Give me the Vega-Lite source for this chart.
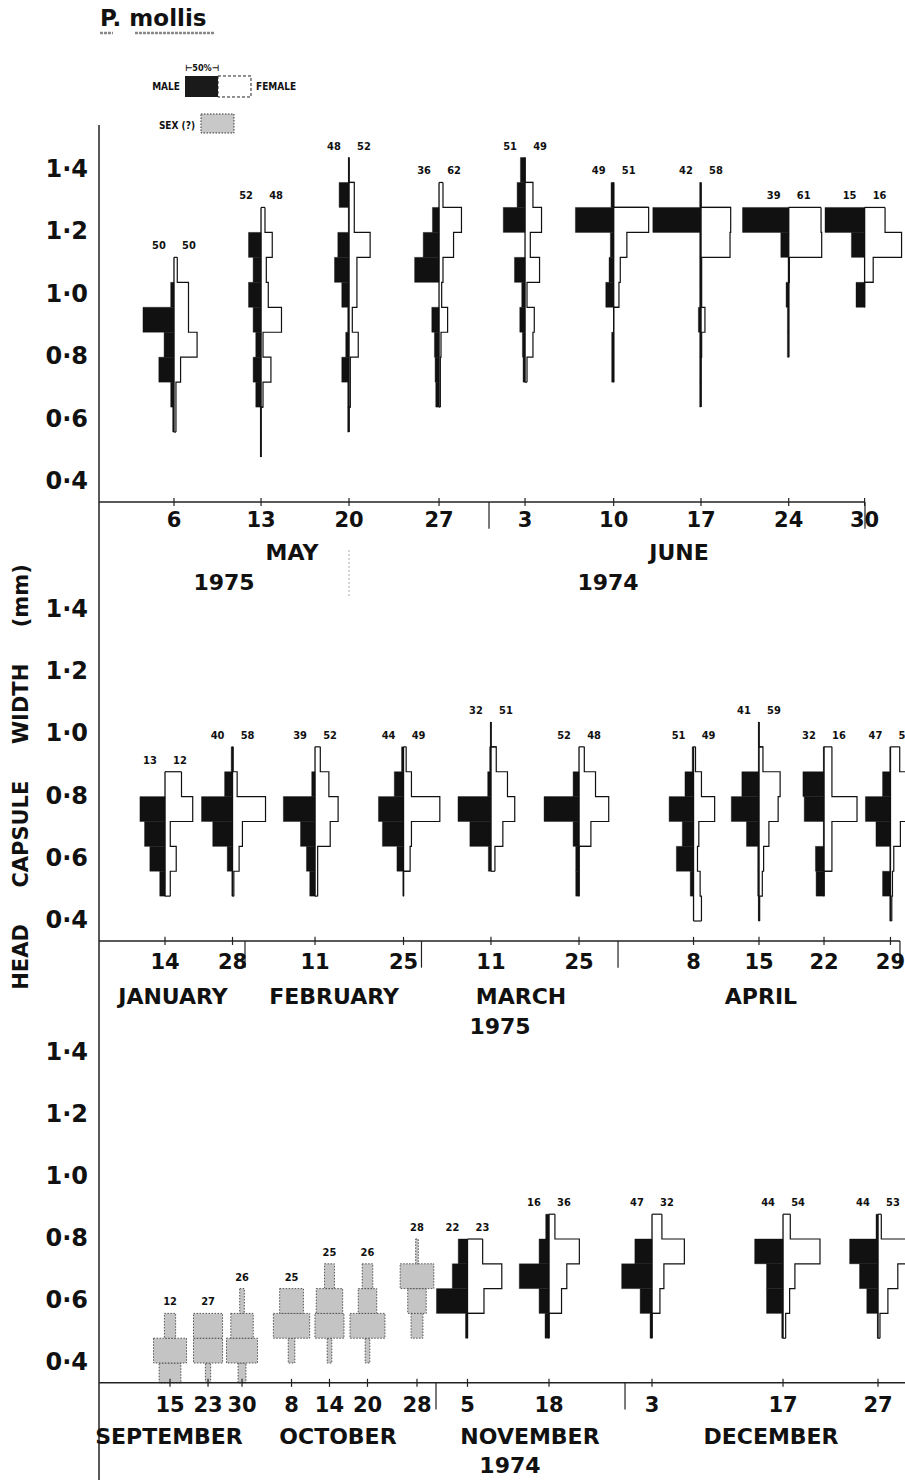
{
"$schema":"https://vega.github.io/schema/vega-lite/v6.json",
"background":"white",
"padding":{"left":10,"top":0,"right":0,"bottom":0},
"autosize":{"type":"pad"},
"bounds":"flush",
"spacing":0,
"config":{"view":{"stroke":null},"text":{"font":"DejaVu Sans","color":"#111"}},
"datasets":{
"yt":[{"v":0.4},{"v":0.6},{"v":0.8},{"v":1.0},{"v":1.2},{"v":1.4}],
"dates":[
{"s":"my06","p":1,"day":"6","slot":113.6,"nm":"50","nf":"50"},
{"s":"my13","p":1,"day":"13","slot":245.5,"nm":"52","nf":"48"},
{"s":"my20","p":1,"day":"20","slot":378.8,"nm":"48","nf":"52"},
{"s":"my27","p":1,"day":"27","slot":515.2,"nm":"36","nf":"62"},
{"s":"jn03","p":1,"day":"3","slot":645.5,"nm":"51","nf":"49"},
{"s":"jn10","p":1,"day":"10","slot":779.8,"nm":"49","nf":"51"},
{"s":"jn17","p":1,"day":"17","slot":912.1,"nm":"42","nf":"58"},
{"s":"jn24","p":1,"day":"24","slot":1045,"nm":"39","nf":"61"},
{"s":"jn30","p":1,"day":"30","slot":1160,"nm":"15","nf":"16"},
{"s":"ja14","p":2,"day":"14","slot":100,"nm":"13","nf":"12"},
{"s":"ja28","p":2,"day":"28","slot":202.3,"nm":"40","nf":"58"},
{"s":"fe11","p":2,"day":"11","slot":327.3,"nm":"39","nf":"52"},
{"s":"fe25","p":2,"day":"25","slot":461.4,"nm":"44","nf":"49"},
{"s":"mr11","p":2,"day":"11","slot":593.9,"nm":"32","nf":"51"},
{"s":"mr25","p":2,"day":"25","slot":727.3,"nm":"52","nf":"48"},
{"s":"ap08","p":2,"day":"8","slot":900.8,"nm":"51","nf":"49"},
{"s":"ap15","p":2,"day":"15","slot":1000,"nm":"41","nf":"59"},
{"s":"ap22","p":2,"day":"22","slot":1098.5,"nm":"32","nf":"16"},
{"s":"ap29","p":2,"day":"29","slot":1199.2,"nm":"47","nf":"53"},
{"s":"se15","p":3,"day":"15","slot":107.6,"n":"12"},
{"s":"se23","p":3,"day":"23","slot":165.2,"n":"27"},
{"s":"se30","p":3,"day":"30","slot":216.7,"n":"26"},
{"s":"oc08","p":3,"day":"8","slot":291.7,"n":"25"},
{"s":"oc14","p":3,"day":"14","slot":349.2,"n":"25"},
{"s":"oc20","p":3,"day":"20","slot":406.8,"n":"26"},
{"s":"oc28","p":3,"day":"28","slot":481.8,"n":"28"},
{"s":"no05","p":3,"day":"5","slot":558.3,"nm":"22","nf":"23"},
{"s":"no18","p":3,"day":"18","slot":681.8,"nm":"16","nf":"36"},
{"s":"de03","p":3,"day":"3","slot":837.9,"nm":"47","nf":"32"},
{"s":"de17","p":3,"day":"17","slot":1036.4,"nm":"44","nf":"54"},
{"s":"de27","p":3,"day":"27","slot":1180.3,"nm":"44","nf":"53"}
],
"seps":[
{"p":1,"slot":590.9},{"p":1,"slot":1160.6},
{"p":2,"slot":221.2},{"p":2,"slot":488.6},{"p":2,"slot":786.4},{"p":2,"slot":1213.6},
{"p":3,"slot":510.6},{"p":3,"slot":797}
],
"labs":[
{"p":1,"k":"m","t":"MAY","slot":292.4},{"p":1,"k":"m","t":"JUNE","slot":878.8},
{"p":1,"k":"y","t":"1975","slot":189.4},{"p":1,"k":"y","t":"1974","slot":771.2},
{"p":2,"k":"m","t":"JANUARY","slot":112.1},{"p":2,"k":"m","t":"FEBRUARY","slot":356.1},
{"p":2,"k":"m","t":"MARCH","slot":639.4},{"p":2,"k":"m","t":"APRIL","slot":1003},
{"p":2,"k":"y","t":"1975","slot":607.6},
{"p":3,"k":"m","t":"SEPTEMBER","slot":106},{"p":3,"k":"m","t":"OCTOBER","slot":362},
{"p":3,"k":"m","t":"NOVEMBER","slot":653},{"p":3,"k":"m","t":"DECEMBER","slot":1018.2},
{"p":3,"k":"y","t":"1974","slot":622.7}
],
"stip":[
{"s":"se15","lo":0.32,"hi":0.40,"u":33},{"s":"se15","lo":0.40,"hi":0.48,"u":50},{"s":"se15","lo":0.48,"hi":0.56,"u":17},
{"s":"se23","lo":0.32,"hi":0.40,"u":8},{"s":"se23","lo":0.40,"hi":0.48,"u":44},{"s":"se23","lo":0.48,"hi":0.56,"u":44},
{"s":"se30","lo":0.32,"hi":0.40,"u":12},{"s":"se30","lo":0.40,"hi":0.48,"u":47},{"s":"se30","lo":0.48,"hi":0.56,"u":34},{"s":"se30","lo":0.56,"hi":0.64,"u":7},
{"s":"oc08","lo":0.40,"hi":0.48,"u":10},{"s":"oc08","lo":0.48,"hi":0.56,"u":55},{"s":"oc08","lo":0.56,"hi":0.64,"u":36},
{"s":"oc14","lo":0.40,"hi":0.48,"u":7},{"s":"oc14","lo":0.48,"hi":0.56,"u":44},{"s":"oc14","lo":0.56,"hi":0.64,"u":40},{"s":"oc14","lo":0.64,"hi":0.72,"u":15},
{"s":"oc20","lo":0.40,"hi":0.48,"u":7},{"s":"oc20","lo":0.48,"hi":0.56,"u":53},{"s":"oc20","lo":0.56,"hi":0.64,"u":28},{"s":"oc20","lo":0.64,"hi":0.72,"u":16},
{"s":"oc28","lo":0.48,"hi":0.56,"u":18},{"s":"oc28","lo":0.56,"hi":0.64,"u":28},{"s":"oc28","lo":0.64,"hi":0.72,"u":51},{"s":"oc28","lo":0.72,"hi":0.80,"u":4}
],
"kites":[
{"s":"my06","lo":0.56,"hi":0.64,"m":2,"f":3},{"s":"my06","lo":0.64,"hi":0.72,"m":5,"f":3},{"s":"my06","lo":0.72,"hi":0.80,"m":23,"f":10},{"s":"my06","lo":0.80,"hi":0.88,"m":15,"f":35},{"s":"my06","lo":0.88,"hi":0.96,"m":47,"f":22},{"s":"my06","lo":0.96,"hi":1.04,"m":5,"f":22},{"s":"my06","lo":1.04,"hi":1.12,"m":0,"f":5},
{"s":"my13","lo":0.48,"hi":0.56,"m":1,"f":0},{"s":"my13","lo":0.56,"hi":0.64,"m":1,"f":0},{"s":"my13","lo":0.64,"hi":0.72,"m":8,"f":3},{"s":"my13","lo":0.72,"hi":0.80,"m":12,"f":15},{"s":"my13","lo":0.80,"hi":0.88,"m":8,"f":3},{"s":"my13","lo":0.88,"hi":0.96,"m":12,"f":31},{"s":"my13","lo":0.96,"hi":1.04,"m":19,"f":11},{"s":"my13","lo":1.04,"hi":1.12,"m":12,"f":8},{"s":"my13","lo":1.12,"hi":1.20,"m":19,"f":17},{"s":"my13","lo":1.20,"hi":1.28,"m":0,"f":6},
{"s":"my20","lo":0.56,"hi":0.64,"m":2,"f":0},{"s":"my20","lo":0.64,"hi":0.72,"m":2,"f":2},{"s":"my20","lo":0.72,"hi":0.80,"m":11,"f":2},{"s":"my20","lo":0.80,"hi":0.88,"m":5,"f":14},{"s":"my20","lo":0.88,"hi":0.96,"m":2,"f":5},{"s":"my20","lo":0.96,"hi":1.04,"m":11,"f":12},{"s":"my20","lo":1.04,"hi":1.12,"m":22,"f":12},{"s":"my20","lo":1.12,"hi":1.20,"m":17,"f":32},{"s":"my20","lo":1.20,"hi":1.28,"m":1,"f":8},{"s":"my20","lo":1.28,"hi":1.36,"m":15,"f":8},{"s":"my20","lo":1.36,"hi":1.44,"m":1,"f":0},
{"s":"my27","lo":0.64,"hi":0.72,"m":5,"f":2},{"s":"my27","lo":0.72,"hi":0.80,"m":6,"f":2},{"s":"my27","lo":0.80,"hi":0.88,"m":7,"f":3},{"s":"my27","lo":0.88,"hi":0.96,"m":11,"f":13},{"s":"my27","lo":0.96,"hi":1.04,"m":0,"f":4},{"s":"my27","lo":1.04,"hi":1.12,"m":37,"f":6},{"s":"my27","lo":1.12,"hi":1.20,"m":24,"f":22},{"s":"my27","lo":1.20,"hi":1.28,"m":10,"f":34},{"s":"my27","lo":1.28,"hi":1.36,"m":0,"f":6},
{"s":"jn03","lo":0.72,"hi":0.80,"m":3,"f":3},{"s":"jn03","lo":0.80,"hi":0.88,"m":4,"f":12},{"s":"jn03","lo":0.88,"hi":0.96,"m":8,"f":14},{"s":"jn03","lo":0.96,"hi":1.04,"m":5,"f":3},{"s":"jn03","lo":1.04,"hi":1.12,"m":16,"f":22},{"s":"jn03","lo":1.12,"hi":1.20,"m":0,"f":8},{"s":"jn03","lo":1.20,"hi":1.28,"m":33,"f":25},{"s":"jn03","lo":1.28,"hi":1.36,"m":12,"f":12},{"s":"jn03","lo":1.36,"hi":1.44,"m":7,"f":0},
{"s":"jn10","lo":0.72,"hi":0.80,"m":3,"f":0},{"s":"jn10","lo":0.80,"hi":0.88,"m":3,"f":0},{"s":"jn10","lo":0.88,"hi":0.96,"m":0,"f":0},{"s":"jn10","lo":0.96,"hi":1.04,"m":12,"f":8},{"s":"jn10","lo":1.04,"hi":1.12,"m":7,"f":10},{"s":"jn10","lo":1.12,"hi":1.20,"m":5,"f":20},{"s":"jn10","lo":1.20,"hi":1.28,"m":58,"f":53},{"s":"jn10","lo":1.28,"hi":1.36,"m":4,"f":0},
{"s":"jn17","lo":0.64,"hi":0.72,"m":2,"f":0},{"s":"jn17","lo":0.72,"hi":0.80,"m":2,"f":0},{"s":"jn17","lo":0.80,"hi":0.88,"m":2,"f":1},{"s":"jn17","lo":0.88,"hi":0.96,"m":4,"f":6},{"s":"jn17","lo":0.96,"hi":1.04,"m":2,"f":1},{"s":"jn17","lo":1.04,"hi":1.12,"m":2,"f":1},{"s":"jn17","lo":1.12,"hi":1.20,"m":2,"f":44},{"s":"jn17","lo":1.20,"hi":1.28,"m":73,"f":45},{"s":"jn17","lo":1.28,"hi":1.36,"m":2,"f":0},
{"s":"jn24","lo":0.80,"hi":0.88,"m":2,"f":0},{"s":"jn24","lo":0.88,"hi":0.96,"m":2,"f":0},{"s":"jn24","lo":0.96,"hi":1.04,"m":4,"f":0},{"s":"jn24","lo":1.04,"hi":1.12,"m":1,"f":1},{"s":"jn24","lo":1.12,"hi":1.20,"m":12,"f":50},{"s":"jn24","lo":1.20,"hi":1.28,"m":70,"f":49},
{"s":"jn30","lo":0.96,"hi":1.04,"m":13,"f":0},{"s":"jn30","lo":1.04,"hi":1.12,"m":0,"f":13},{"s":"jn30","lo":1.12,"hi":1.20,"m":20,"f":56},{"s":"jn30","lo":1.20,"hi":1.28,"m":60,"f":31},
{"s":"ja14","lo":0.48,"hi":0.56,"m":8,"f":8},{"s":"ja14","lo":0.56,"hi":0.64,"m":23,"f":17},{"s":"ja14","lo":0.64,"hi":0.72,"m":31,"f":8},{"s":"ja14","lo":0.72,"hi":0.80,"m":38,"f":42},{"s":"ja14","lo":0.80,"hi":0.88,"m":0,"f":25},
{"s":"ja28","lo":0.48,"hi":0.56,"m":1,"f":2},{"s":"ja28","lo":0.56,"hi":0.64,"m":8,"f":10},{"s":"ja28","lo":0.64,"hi":0.72,"m":30,"f":15},{"s":"ja28","lo":0.72,"hi":0.80,"m":47,"f":50},{"s":"ja28","lo":0.80,"hi":0.88,"m":12,"f":7},{"s":"ja28","lo":0.88,"hi":0.96,"m":2,"f":1},
{"s":"fe11","lo":0.48,"hi":0.56,"m":8,"f":4},{"s":"fe11","lo":0.56,"hi":0.64,"m":13,"f":4},{"s":"fe11","lo":0.64,"hi":0.72,"m":22,"f":23},{"s":"fe11","lo":0.72,"hi":0.80,"m":48,"f":35},{"s":"fe11","lo":0.80,"hi":0.88,"m":5,"f":21},{"s":"fe11","lo":0.88,"hi":0.96,"m":0,"f":8},
{"s":"fe25","lo":0.48,"hi":0.56,"m":1,"f":0},{"s":"fe25","lo":0.56,"hi":0.64,"m":10,"f":10},{"s":"fe25","lo":0.64,"hi":0.72,"m":32,"f":12},{"s":"fe25","lo":0.72,"hi":0.80,"m":38,"f":55},{"s":"fe25","lo":0.80,"hi":0.88,"m":14,"f":12},{"s":"fe25","lo":0.88,"hi":0.96,"m":3,"f":4},
{"s":"mr11","lo":0.56,"hi":0.64,"m":4,"f":6},{"s":"mr11","lo":0.64,"hi":0.72,"m":32,"f":18},{"s":"mr11","lo":0.72,"hi":0.80,"m":50,"f":36},{"s":"mr11","lo":0.80,"hi":0.88,"m":5,"f":25},{"s":"mr11","lo":0.88,"hi":0.96,"m":2,"f":8},{"s":"mr11","lo":0.96,"hi":1.04,"m":1,"f":0},
{"s":"mr25","lo":0.48,"hi":0.56,"m":5,"f":0},{"s":"mr25","lo":0.56,"hi":0.64,"m":5,"f":0},{"s":"mr25","lo":0.64,"hi":0.72,"m":9,"f":18},{"s":"mr25","lo":0.72,"hi":0.80,"m":53,"f":45},{"s":"mr25","lo":0.80,"hi":0.88,"m":9,"f":25},{"s":"mr25","lo":0.88,"hi":0.96,"m":0,"f":8},
{"s":"ap08","lo":0.40,"hi":0.48,"m":0,"f":12},{"s":"ap08","lo":0.48,"hi":0.56,"m":5,"f":10},{"s":"ap08","lo":0.56,"hi":0.64,"m":26,"f":6},{"s":"ap08","lo":0.64,"hi":0.72,"m":17,"f":8},{"s":"ap08","lo":0.72,"hi":0.80,"m":37,"f":32},{"s":"ap08","lo":0.80,"hi":0.88,"m":13,"f":12},{"s":"ap08","lo":0.88,"hi":0.96,"m":2,"f":3},
{"s":"ap15","lo":0.40,"hi":0.48,"m":1,"f":1},{"s":"ap15","lo":0.48,"hi":0.56,"m":2,"f":5},{"s":"ap15","lo":0.56,"hi":0.64,"m":2,"f":7},{"s":"ap15","lo":0.64,"hi":0.72,"m":19,"f":15},{"s":"ap15","lo":0.72,"hi":0.80,"m":42,"f":29},{"s":"ap15","lo":0.80,"hi":0.88,"m":26,"f":32},{"s":"ap15","lo":0.88,"hi":0.96,"m":1,"f":6},{"s":"ap15","lo":0.96,"hi":1.04,"m":1,"f":0},
{"s":"ap22","lo":0.48,"hi":0.56,"m":12,"f":0},{"s":"ap22","lo":0.56,"hi":0.64,"m":13,"f":12},{"s":"ap22","lo":0.64,"hi":0.72,"m":1,"f":12},{"s":"ap22","lo":0.72,"hi":0.80,"m":30,"f":50},{"s":"ap22","lo":0.80,"hi":0.88,"m":32,"f":12},{"s":"ap22","lo":0.88,"hi":0.96,"m":1,"f":12},
{"s":"ap29","lo":0.40,"hi":0.48,"m":1,"f":2},{"s":"ap29","lo":0.48,"hi":0.56,"m":12,"f":3},{"s":"ap29","lo":0.56,"hi":0.64,"m":1,"f":5},{"s":"ap29","lo":0.64,"hi":0.72,"m":22,"f":15},{"s":"ap29","lo":0.72,"hi":0.80,"m":38,"f":40},{"s":"ap29","lo":0.80,"hi":0.88,"m":12,"f":25},{"s":"ap29","lo":0.88,"hi":0.96,"m":1,"f":14},
{"s":"no05","lo":0.48,"hi":0.56,"m":3,"f":0},{"s":"no05","lo":0.56,"hi":0.64,"m":47,"f":25},{"s":"no05","lo":0.64,"hi":0.72,"m":23,"f":52},{"s":"no05","lo":0.72,"hi":0.80,"m":14,"f":23},
{"s":"no18","lo":0.48,"hi":0.56,"m":6,"f":0},{"s":"no18","lo":0.56,"hi":0.64,"m":15,"f":19},{"s":"no18","lo":0.64,"hi":0.72,"m":45,"f":27},{"s":"no18","lo":0.72,"hi":0.80,"m":15,"f":46},{"s":"no18","lo":0.80,"hi":0.88,"m":5,"f":9},
{"s":"de03","lo":0.48,"hi":0.56,"m":3,"f":0},{"s":"de03","lo":0.56,"hi":0.64,"m":18,"f":12},{"s":"de03","lo":0.64,"hi":0.72,"m":46,"f":18},{"s":"de03","lo":0.72,"hi":0.80,"m":26,"f":49},{"s":"de03","lo":0.80,"hi":0.88,"m":0,"f":15},
{"s":"de17","lo":0.48,"hi":0.56,"m":2,"f":4},{"s":"de17","lo":0.56,"hi":0.64,"m":25,"f":10},{"s":"de17","lo":0.64,"hi":0.72,"m":25,"f":18},{"s":"de17","lo":0.72,"hi":0.80,"m":43,"f":56},{"s":"de17","lo":0.80,"hi":0.88,"m":0,"f":11},
{"s":"de27","lo":0.48,"hi":0.56,"m":1,"f":3},{"s":"de27","lo":0.56,"hi":0.64,"m":17,"f":15},{"s":"de27","lo":0.64,"hi":0.72,"m":28,"f":30},{"s":"de27","lo":0.72,"hi":0.80,"m":43,"f":45},{"s":"de27","lo":0.80,"hi":0.88,"m":3,"f":5}
]
},
"vconcat":[
{
"width":808,"height":125,
"layer":[
{"data":{"values":[{}]},"mark":{"type":"text","text":"P. mollis","align":"left","baseline":"middle","fontWeight":"bold","fontSize":23},
 "encoding":{"x":{"datum":1.5,"type":"quantitative","scale":{"domain":[0,1224.24],"nice":false,"zero":false},"axis":null},"y":{"datum":1.884,"type":"quantitative","scale":{"domain":[1.5442,1.9448],"nice":false,"zero":false},"axis":null}}},
{"data":{"values":[{}]},"mark":{"type":"rule","color":"#888","strokeWidth":2.5,"strokeDash":[3,1]},
 "encoding":{"x":{"datum":1.5,"type":"quantitative","scale":{"domain":[0,1224.24],"nice":false,"zero":false},"axis":null},"x2":{"datum":21.2},"y":{"datum":1.839,"type":"quantitative","scale":{"domain":[1.5442,1.9448],"nice":false,"zero":false},"axis":null}}},
{"data":{"values":[{}]},"mark":{"type":"rule","color":"#888","strokeWidth":2.5,"strokeDash":[3,1]},
 "encoding":{"x":{"datum":54.5,"type":"quantitative","scale":{"domain":[0,1224.24],"nice":false,"zero":false},"axis":null},"x2":{"datum":175.8},"y":{"datum":1.839,"type":"quantitative","scale":{"domain":[1.5442,1.9448],"nice":false,"zero":false},"axis":null}}},
{"data":{"values":[{}]},"mark":{"type":"text","text":"⊢50%⊣","align":"center","baseline":"middle","fontWeight":"bold","fontSize":9,"font":"Liberation Sans Narrow, DejaVu Sans Condensed, Liberation Sans"},
 "encoding":{"x":{"datum":156.1,"type":"quantitative","scale":{"domain":[0,1224.24],"nice":false,"zero":false},"axis":null},"y":{"datum":1.727,"type":"quantitative","scale":{"domain":[1.5442,1.9448],"nice":false,"zero":false},"axis":null}}},
{"data":{"values":[{}]},"mark":{"type":"text","text":"MALE","align":"right","baseline":"middle","fontWeight":"bold","fontSize":10,"font":"Liberation Sans Narrow, DejaVu Sans Condensed, Liberation Sans"},
 "encoding":{"x":{"datum":122.7,"type":"quantitative","scale":{"domain":[0,1224.24],"nice":false,"zero":false},"axis":null},"y":{"datum":1.666,"type":"quantitative","scale":{"domain":[1.5442,1.9448],"nice":false,"zero":false},"axis":null}}},
{"data":{"values":[{}]},"mark":{"type":"rect","fill":"#1a1a1a"},
 "encoding":{"x":{"datum":130.3,"type":"quantitative","scale":{"domain":[0,1224.24],"nice":false,"zero":false},"axis":null},"x2":{"datum":180.3},"y":{"datum":1.7013,"type":"quantitative","scale":{"domain":[1.5442,1.9448],"nice":false,"zero":false},"axis":null},"y2":{"datum":1.634}}},
{"data":{"values":[{}]},"mark":{"type":"rect","fill":"white","stroke":"#222","strokeWidth":1,"strokeDash":[3,2]},
 "encoding":{"x":{"datum":180.3,"type":"quantitative","scale":{"domain":[0,1224.24],"nice":false,"zero":false},"axis":null},"x2":{"datum":230.3},"y":{"datum":1.7013,"type":"quantitative","scale":{"domain":[1.5442,1.9448],"nice":false,"zero":false},"axis":null},"y2":{"datum":1.634}}},
{"data":{"values":[{}]},"mark":{"type":"text","text":"FEMALE","align":"left","baseline":"middle","fontWeight":"bold","fontSize":10,"font":"Liberation Sans Narrow, DejaVu Sans Condensed, Liberation Sans"},
 "encoding":{"x":{"datum":237.9,"type":"quantitative","scale":{"domain":[0,1224.24],"nice":false,"zero":false},"axis":null},"y":{"datum":1.666,"type":"quantitative","scale":{"domain":[1.5442,1.9448],"nice":false,"zero":false},"axis":null}}},
{"data":{"values":[{}]},"mark":{"type":"text","text":"SEX (?)","align":"right","baseline":"middle","fontWeight":"bold","fontSize":10,"font":"Liberation Sans Narrow, DejaVu Sans Condensed, Liberation Sans"},
 "encoding":{"x":{"datum":145.5,"type":"quantitative","scale":{"domain":[0,1224.24],"nice":false,"zero":false},"axis":null},"y":{"datum":1.541,"type":"quantitative","scale":{"domain":[1.5442,1.9448],"nice":false,"zero":false},"axis":null}}},
{"data":{"values":[{}]},"mark":{"type":"rect","fill":"#c8c8c8","stroke":"#333","strokeWidth":1,"strokeDash":[1.5,1.5]},
 "encoding":{"x":{"datum":154.5,"type":"quantitative","scale":{"domain":[0,1224.24],"nice":false,"zero":false},"axis":null},"x2":{"datum":204.5},"y":{"datum":1.5795,"type":"quantitative","scale":{"domain":[1.5442,1.9448],"nice":false,"zero":false},"axis":null},"y2":{"datum":1.5186}}}
]
},
{
"width":808,"height":475,
"layer":[
{"data":{"values":[{}]},"mark":{"type":"rule","color":"#222","strokeWidth":1.5},
 "encoding":{"x":{"datum":0,"type":"quantitative","scale":{"domain":[0,1224.24],"nice":false,"zero":false},"axis":null},"y":{"datum":0.0218,"type":"quantitative","scale":{"domain":[0.0218,1.5442],"nice":false,"zero":false},"axis":null},"y2":{"datum":1.5442}}},
{"data":{"name":"yt"},"transform":[{"calculate":"replace(format(datum.v,'.1f'),'.','·')","as":"lab"}],
 "mark":{"type":"text","align":"right","baseline":"middle","dx":-11,"fontWeight":"bold","fontSize":24},
 "encoding":{"text":{"field":"lab"},"x":{"datum":0,"type":"quantitative","scale":{"domain":[0,1224.24],"nice":false,"zero":false},"axis":null},"y":{"field":"v","type":"quantitative","scale":{"domain":[0.0218,1.5442],"nice":false,"zero":false},"axis":null}}},
{"data":{"name":"kites"},
 "transform":[{"lookup":"s","from":{"data":{"name":"dates"},"key":"s","fields":["p","slot"]}},{"filter":"datum.p==1 && datum.m>0"},{"calculate":"datum.slot-datum.m","as":"xm"}],
 "mark":{"type":"rect","fill":"#111","stroke":"#111","strokeWidth":0.4,"clip":true},
 "encoding":{"x":{"field":"xm","type":"quantitative","scale":{"domain":[0,1224.24],"nice":false,"zero":false},"axis":null},"x2":{"field":"slot"},"y":{"field":"lo","type":"quantitative","scale":{"domain":[0.0218,1.5442],"nice":false,"zero":false},"axis":null},"y2":{"field":"hi"}}},
{"data":{"name":"kites"},
 "transform":[{"lookup":"s","from":{"data":{"name":"dates"},"key":"s","fields":["p","slot"]}},{"filter":"datum.p==1"},{"calculate":"datum.slot+datum.f","as":"xf"},{"fold":["lo","hi"],"as":["k","yy"]},{"calculate":"datum.yy+(datum.k=='hi'?0:0.001)","as":"ord"}],
 "mark":{"type":"line","color":"#111","strokeWidth":1.2,"clip":true},
 "encoding":{"x":{"field":"xf","type":"quantitative","scale":{"domain":[0,1224.24],"nice":false,"zero":false},"axis":null},"y":{"field":"yy","type":"quantitative","scale":{"domain":[0.0218,1.5442],"nice":false,"zero":false},"axis":null},"detail":{"field":"s"},"order":{"field":"ord","type":"quantitative"}}},
{"data":{"name":"kites"},
 "transform":[{"lookup":"s","from":{"data":{"name":"dates"},"key":"s","fields":["p","slot"]}},{"filter":"datum.p==1 && datum.f>0"},{"joinaggregate":[{"op":"min","field":"lo","as":"flo"},{"op":"max","field":"hi","as":"fhi"}],"groupby":["s"]},{"calculate":"datum.slot+datum.f","as":"xf"},{"filter":"datum.lo==datum.flo"}],
 "mark":{"type":"rule","color":"#111","strokeWidth":1.2,"clip":true},
 "encoding":{"x":{"field":"slot","type":"quantitative","scale":{"domain":[0,1224.24],"nice":false,"zero":false},"axis":null},"x2":{"field":"xf"},"y":{"field":"lo","type":"quantitative","scale":{"domain":[0.0218,1.5442],"nice":false,"zero":false},"axis":null}}},
{"data":{"name":"kites"},
 "transform":[{"lookup":"s","from":{"data":{"name":"dates"},"key":"s","fields":["p","slot"]}},{"filter":"datum.p==1 && datum.f>0"},{"joinaggregate":[{"op":"min","field":"lo","as":"flo"},{"op":"max","field":"hi","as":"fhi"}],"groupby":["s"]},{"calculate":"datum.slot+datum.f","as":"xf"},{"filter":"datum.hi==datum.fhi"}],
 "mark":{"type":"rule","color":"#111","strokeWidth":1.2,"clip":true},
 "encoding":{"x":{"field":"slot","type":"quantitative","scale":{"domain":[0,1224.24],"nice":false,"zero":false},"axis":null},"x2":{"field":"xf"},"y":{"field":"hi","type":"quantitative","scale":{"domain":[0.0218,1.5442],"nice":false,"zero":false},"axis":null}}},
{"data":{"name":"kites"},
 "transform":[{"aggregate":[{"op":"min","field":"lo","as":"bot"},{"op":"max","field":"hi","as":"top"}],"groupby":["s"]},{"lookup":"s","from":{"data":{"name":"dates"},"key":"s","fields":["p","slot","nm","nf"]}},{"filter":"datum.p==1"}],
 "mark":{"type":"rule","color":"#111","strokeWidth":1.3,"clip":true},
 "encoding":{"x":{"field":"slot","type":"quantitative","scale":{"domain":[0,1224.24],"nice":false,"zero":false},"axis":null},"y":{"field":"bot","type":"quantitative","scale":{"domain":[0.0218,1.5442],"nice":false,"zero":false},"axis":null},"y2":{"field":"top"}}},
{"data":{"name":"kites"},
 "transform":[{"aggregate":[{"op":"max","field":"hi","as":"top"}],"groupby":["s"]},{"lookup":"s","from":{"data":{"name":"dates"},"key":"s","fields":["p","slot","nm","nf"]}},{"filter":"datum.p==1"}],
 "mark":{"type":"text","dx":-15,"dy":-11,"baseline":"middle","fontWeight":"bold","fontSize":11,"font":"Liberation Sans Narrow, DejaVu Sans Condensed, Liberation Sans","clip":true},
 "encoding":{"text":{"field":"nm"},"x":{"field":"slot","type":"quantitative","scale":{"domain":[0,1224.24],"nice":false,"zero":false},"axis":null},"y":{"field":"top","type":"quantitative","scale":{"domain":[0.0218,1.5442],"nice":false,"zero":false},"axis":null}}},
{"data":{"name":"kites"},
 "transform":[{"aggregate":[{"op":"max","field":"hi","as":"top"}],"groupby":["s"]},{"lookup":"s","from":{"data":{"name":"dates"},"key":"s","fields":["p","slot","nm","nf"]}},{"filter":"datum.p==1"}],
 "mark":{"type":"text","dx":15,"dy":-11,"baseline":"middle","fontWeight":"bold","fontSize":11,"font":"Liberation Sans Narrow, DejaVu Sans Condensed, Liberation Sans","clip":true},
 "encoding":{"text":{"field":"nf"},"x":{"field":"slot","type":"quantitative","scale":{"domain":[0,1224.24],"nice":false,"zero":false},"axis":null},"y":{"field":"top","type":"quantitative","scale":{"domain":[0.0218,1.5442],"nice":false,"zero":false},"axis":null}}},
{"data":{"values":[{}]},"mark":{"type":"rule","color":"#222","strokeWidth":1.5},
 "encoding":{"x":{"datum":0,"type":"quantitative","scale":{"domain":[0,1224.24],"nice":false,"zero":false},"axis":null},"x2":{"datum":1160.6},"y":{"datum":0.336,"type":"quantitative","scale":{"domain":[0.0218,1.5442],"nice":false,"zero":false},"axis":null}}},
{"data":{"name":"dates"},"transform":[{"filter":"datum.p==1"}],"mark":{"type":"rule","color":"#222","strokeWidth":1.2},
 "encoding":{"x":{"field":"slot","type":"quantitative","scale":{"domain":[0,1224.24],"nice":false,"zero":false},"axis":null},"y":{"datum":0.349,"type":"quantitative","scale":{"domain":[0.0218,1.5442],"nice":false,"zero":false},"axis":null},"y2":{"datum":0.323}}},
{"data":{"name":"seps"},"transform":[{"filter":"datum.p==1"}],"mark":{"type":"rule","color":"#222","strokeWidth":1.2},
 "encoding":{"x":{"field":"slot","type":"quantitative","scale":{"domain":[0,1224.24],"nice":false,"zero":false},"axis":null},"y":{"datum":0.336,"type":"quantitative","scale":{"domain":[0.0218,1.5442],"nice":false,"zero":false},"axis":null},"y2":{"datum":0.25}}},
{"data":{"name":"dates"},"transform":[{"filter":"datum.p==1"}],"mark":{"type":"text","baseline":"middle","fontWeight":"bold","fontSize":21},
 "encoding":{"text":{"field":"day"},"x":{"field":"slot","type":"quantitative","scale":{"domain":[0,1224.24],"nice":false,"zero":false},"axis":null},"y":{"datum":0.2734,"type":"quantitative","scale":{"domain":[0.0218,1.5442],"nice":false,"zero":false},"axis":null}}},
{"data":{"name":"labs"},"transform":[{"filter":"datum.p==1 && datum.k=='m'"}],"mark":{"type":"text","baseline":"middle","fontWeight":"bold","fontSize":22},
 "encoding":{"text":{"field":"t"},"x":{"field":"slot","type":"quantitative","scale":{"domain":[0,1224.24],"nice":false,"zero":false},"axis":null},"y":{"datum":0.1724,"type":"quantitative","scale":{"domain":[0.0218,1.5442],"nice":false,"zero":false},"axis":null}}},
{"data":{"name":"labs"},"transform":[{"filter":"datum.p==1 && datum.k=='y'"}],"mark":{"type":"text","baseline":"middle","fontWeight":"bold","fontSize":22},
 "encoding":{"text":{"field":"t"},"x":{"field":"slot","type":"quantitative","scale":{"domain":[0,1224.24],"nice":false,"zero":false},"axis":null},"y":{"datum":0.0763,"type":"quantitative","scale":{"domain":[0.0218,1.5442],"nice":false,"zero":false},"axis":null}}},
{"data":{"values":[{}]},"mark":{"type":"rule","color":"#aaa","strokeWidth":1,"strokeDash":[2,2]},
 "encoding":{"x":{"datum":378.8,"type":"quantitative","scale":{"domain":[0,1224.24],"nice":false,"zero":false},"axis":null},"y":{"datum":0.182,"type":"quantitative","scale":{"domain":[0.0218,1.5442],"nice":false,"zero":false},"axis":null},"y2":{"datum":0.03}}}
]
},
{
"width":808,"height":445,
"layer":[
{"data":{"values":[{}]},"mark":{"type":"rule","color":"#222","strokeWidth":1.5},
 "encoding":{"x":{"datum":0,"type":"quantitative","scale":{"domain":[0,1224.24],"nice":false,"zero":false},"axis":null},"y":{"datum":0.0013,"type":"quantitative","scale":{"domain":[0.0013,1.4322],"nice":false,"zero":false},"axis":null},"y2":{"datum":1.4322}}},
{"data":{"name":"yt"},"transform":[{"calculate":"replace(format(datum.v,'.1f'),'.','·')","as":"lab"}],
 "mark":{"type":"text","align":"right","baseline":"middle","dx":-11,"fontWeight":"bold","fontSize":24},
 "encoding":{"text":{"field":"lab"},"x":{"datum":0,"type":"quantitative","scale":{"domain":[0,1224.24],"nice":false,"zero":false},"axis":null},"y":{"field":"v","type":"quantitative","scale":{"domain":[0.0013,1.4322],"nice":false,"zero":false},"axis":null}}},
{"data":{"values":[{}]},"mark":{"type":"text","text":"HEAD\u00a0\u00a0\u00a0\u00a0\u00a0CAPSULE\u00a0\u00a0\u00a0\u00a0\u00a0WIDTH\u00a0\u00a0\u00a0\u00a0\u00a0(mm)","angle":270,"align":"center","baseline":"middle","fontWeight":"bold","fontSize":21},
 "encoding":{"x":{"datum":-116.7,"type":"quantitative","scale":{"domain":[0,1224.24],"nice":false,"zero":false},"axis":null},"y":{"datum":0.863,"type":"quantitative","scale":{"domain":[0.0013,1.4322],"nice":false,"zero":false},"axis":null}}},
{"data":{"name":"kites"},
 "transform":[{"lookup":"s","from":{"data":{"name":"dates"},"key":"s","fields":["p","slot"]}},{"filter":"datum.p==2 && datum.m>0"},{"calculate":"datum.slot-datum.m","as":"xm"}],
 "mark":{"type":"rect","fill":"#111","stroke":"#111","strokeWidth":0.4,"clip":true},
 "encoding":{"x":{"field":"xm","type":"quantitative","scale":{"domain":[0,1224.24],"nice":false,"zero":false},"axis":null},"x2":{"field":"slot"},"y":{"field":"lo","type":"quantitative","scale":{"domain":[0.0013,1.4322],"nice":false,"zero":false},"axis":null},"y2":{"field":"hi"}}},
{"data":{"name":"kites"},
 "transform":[{"lookup":"s","from":{"data":{"name":"dates"},"key":"s","fields":["p","slot"]}},{"filter":"datum.p==2"},{"calculate":"datum.slot+datum.f","as":"xf"},{"fold":["lo","hi"],"as":["k","yy"]},{"calculate":"datum.yy+(datum.k=='hi'?0:0.001)","as":"ord"}],
 "mark":{"type":"line","color":"#111","strokeWidth":1.2,"clip":true},
 "encoding":{"x":{"field":"xf","type":"quantitative","scale":{"domain":[0,1224.24],"nice":false,"zero":false},"axis":null},"y":{"field":"yy","type":"quantitative","scale":{"domain":[0.0013,1.4322],"nice":false,"zero":false},"axis":null},"detail":{"field":"s"},"order":{"field":"ord","type":"quantitative"}}},
{"data":{"name":"kites"},
 "transform":[{"lookup":"s","from":{"data":{"name":"dates"},"key":"s","fields":["p","slot"]}},{"filter":"datum.p==2 && datum.f>0"},{"joinaggregate":[{"op":"min","field":"lo","as":"flo"},{"op":"max","field":"hi","as":"fhi"}],"groupby":["s"]},{"calculate":"datum.slot+datum.f","as":"xf"},{"filter":"datum.lo==datum.flo"}],
 "mark":{"type":"rule","color":"#111","strokeWidth":1.2,"clip":true},
 "encoding":{"x":{"field":"slot","type":"quantitative","scale":{"domain":[0,1224.24],"nice":false,"zero":false},"axis":null},"x2":{"field":"xf"},"y":{"field":"lo","type":"quantitative","scale":{"domain":[0.0013,1.4322],"nice":false,"zero":false},"axis":null}}},
{"data":{"name":"kites"},
 "transform":[{"lookup":"s","from":{"data":{"name":"dates"},"key":"s","fields":["p","slot"]}},{"filter":"datum.p==2 && datum.f>0"},{"joinaggregate":[{"op":"min","field":"lo","as":"flo"},{"op":"max","field":"hi","as":"fhi"}],"groupby":["s"]},{"calculate":"datum.slot+datum.f","as":"xf"},{"filter":"datum.hi==datum.fhi"}],
 "mark":{"type":"rule","color":"#111","strokeWidth":1.2,"clip":true},
 "encoding":{"x":{"field":"slot","type":"quantitative","scale":{"domain":[0,1224.24],"nice":false,"zero":false},"axis":null},"x2":{"field":"xf"},"y":{"field":"hi","type":"quantitative","scale":{"domain":[0.0013,1.4322],"nice":false,"zero":false},"axis":null}}},
{"data":{"name":"kites"},
 "transform":[{"aggregate":[{"op":"min","field":"lo","as":"bot"},{"op":"max","field":"hi","as":"top"}],"groupby":["s"]},{"lookup":"s","from":{"data":{"name":"dates"},"key":"s","fields":["p","slot"]}},{"filter":"datum.p==2"}],
 "mark":{"type":"rule","color":"#111","strokeWidth":1.3,"clip":true},
 "encoding":{"x":{"field":"slot","type":"quantitative","scale":{"domain":[0,1224.24],"nice":false,"zero":false},"axis":null},"y":{"field":"bot","type":"quantitative","scale":{"domain":[0.0013,1.4322],"nice":false,"zero":false},"axis":null},"y2":{"field":"top"}}},
{"data":{"name":"kites"},
 "transform":[{"aggregate":[{"op":"max","field":"hi","as":"top"}],"groupby":["s"]},{"lookup":"s","from":{"data":{"name":"dates"},"key":"s","fields":["p","slot","nm","nf"]}},{"filter":"datum.p==2"}],
 "mark":{"type":"text","dx":-15,"dy":-11,"baseline":"middle","fontWeight":"bold","fontSize":11,"font":"Liberation Sans Narrow, DejaVu Sans Condensed, Liberation Sans","clip":true},
 "encoding":{"text":{"field":"nm"},"x":{"field":"slot","type":"quantitative","scale":{"domain":[0,1224.24],"nice":false,"zero":false},"axis":null},"y":{"field":"top","type":"quantitative","scale":{"domain":[0.0013,1.4322],"nice":false,"zero":false},"axis":null}}},
{"data":{"name":"kites"},
 "transform":[{"aggregate":[{"op":"max","field":"hi","as":"top"}],"groupby":["s"]},{"lookup":"s","from":{"data":{"name":"dates"},"key":"s","fields":["p","slot","nm","nf"]}},{"filter":"datum.p==2"}],
 "mark":{"type":"text","dx":15,"dy":-11,"baseline":"middle","fontWeight":"bold","fontSize":11,"font":"Liberation Sans Narrow, DejaVu Sans Condensed, Liberation Sans","clip":true},
 "encoding":{"text":{"field":"nf"},"x":{"field":"slot","type":"quantitative","scale":{"domain":[0,1224.24],"nice":false,"zero":false},"axis":null},"y":{"field":"top","type":"quantitative","scale":{"domain":[0.0013,1.4322],"nice":false,"zero":false},"axis":null}}},
{"data":{"values":[{}]},"mark":{"type":"rule","color":"#222","strokeWidth":1.5},
 "encoding":{"x":{"datum":0,"type":"quantitative","scale":{"domain":[0,1224.24],"nice":false,"zero":false},"axis":null},"x2":{"datum":1213.6},"y":{"datum":0.336,"type":"quantitative","scale":{"domain":[0.0013,1.4322],"nice":false,"zero":false},"axis":null}}},
{"data":{"name":"dates"},"transform":[{"filter":"datum.p==2"}],"mark":{"type":"rule","color":"#222","strokeWidth":1.2},
 "encoding":{"x":{"field":"slot","type":"quantitative","scale":{"domain":[0,1224.24],"nice":false,"zero":false},"axis":null},"y":{"datum":0.349,"type":"quantitative","scale":{"domain":[0.0013,1.4322],"nice":false,"zero":false},"axis":null},"y2":{"datum":0.323}}},
{"data":{"name":"seps"},"transform":[{"filter":"datum.p==2"}],"mark":{"type":"rule","color":"#222","strokeWidth":1.2},
 "encoding":{"x":{"field":"slot","type":"quantitative","scale":{"domain":[0,1224.24],"nice":false,"zero":false},"axis":null},"y":{"datum":0.336,"type":"quantitative","scale":{"domain":[0.0013,1.4322],"nice":false,"zero":false},"axis":null},"y2":{"datum":0.25}}},
{"data":{"name":"dates"},"transform":[{"filter":"datum.p==2"}],"mark":{"type":"text","baseline":"middle","fontWeight":"bold","fontSize":21},
 "encoding":{"text":{"field":"day"},"x":{"field":"slot","type":"quantitative","scale":{"domain":[0,1224.24],"nice":false,"zero":false},"axis":null},"y":{"datum":0.265,"type":"quantitative","scale":{"domain":[0.0013,1.4322],"nice":false,"zero":false},"axis":null}}},
{"data":{"name":"labs"},"transform":[{"filter":"datum.p==2 && datum.k=='m'"}],"mark":{"type":"text","baseline":"middle","fontWeight":"bold","fontSize":22},
 "encoding":{"text":{"field":"t"},"x":{"field":"slot","type":"quantitative","scale":{"domain":[0,1224.24],"nice":false,"zero":false},"axis":null},"y":{"datum":0.1556,"type":"quantitative","scale":{"domain":[0.0013,1.4322],"nice":false,"zero":false},"axis":null}}},
{"data":{"name":"labs"},"transform":[{"filter":"datum.p==2 && datum.k=='y'"}],"mark":{"type":"text","baseline":"middle","fontWeight":"bold","fontSize":22},
 "encoding":{"text":{"field":"t"},"x":{"field":"slot","type":"quantitative","scale":{"domain":[0,1224.24],"nice":false,"zero":false},"axis":null},"y":{"datum":0.0592,"type":"quantitative","scale":{"domain":[0.0013,1.4322],"nice":false,"zero":false},"axis":null}}}
]
},
{
"width":808,"height":435,
"layer":[
{"data":{"values":[{}]},"mark":{"type":"rule","color":"#222","strokeWidth":1.5},
 "encoding":{"x":{"datum":0,"type":"quantitative","scale":{"domain":[0,1224.24],"nice":false,"zero":false},"axis":null},"y":{"datum":0.0226,"type":"quantitative","scale":{"domain":[0.0226,1.4258],"nice":false,"zero":false},"axis":null},"y2":{"datum":1.4258}}},
{"data":{"name":"yt"},"transform":[{"calculate":"replace(format(datum.v,'.1f'),'.','·')","as":"lab"}],
 "mark":{"type":"text","align":"right","baseline":"middle","dx":-11,"fontWeight":"bold","fontSize":24},
 "encoding":{"text":{"field":"lab"},"x":{"datum":0,"type":"quantitative","scale":{"domain":[0,1224.24],"nice":false,"zero":false},"axis":null},"y":{"field":"v","type":"quantitative","scale":{"domain":[0.0226,1.4258],"nice":false,"zero":false},"axis":null}}},
{"data":{"name":"kites"},
 "transform":[{"lookup":"s","from":{"data":{"name":"dates"},"key":"s","fields":["p","slot"]}},{"filter":"datum.p==3 && datum.m>0"},{"calculate":"datum.slot-datum.m","as":"xm"}],
 "mark":{"type":"rect","fill":"#111","stroke":"#111","strokeWidth":0.4,"clip":true},
 "encoding":{"x":{"field":"xm","type":"quantitative","scale":{"domain":[0,1224.24],"nice":false,"zero":false},"axis":null},"x2":{"field":"slot"},"y":{"field":"lo","type":"quantitative","scale":{"domain":[0.0226,1.4258],"nice":false,"zero":false},"axis":null},"y2":{"field":"hi"}}},
{"data":{"name":"kites"},
 "transform":[{"lookup":"s","from":{"data":{"name":"dates"},"key":"s","fields":["p","slot"]}},{"filter":"datum.p==3"},{"calculate":"datum.slot+datum.f","as":"xf"},{"fold":["lo","hi"],"as":["k","yy"]},{"calculate":"datum.yy+(datum.k=='hi'?0:0.001)","as":"ord"}],
 "mark":{"type":"line","color":"#111","strokeWidth":1.2,"clip":true},
 "encoding":{"x":{"field":"xf","type":"quantitative","scale":{"domain":[0,1224.24],"nice":false,"zero":false},"axis":null},"y":{"field":"yy","type":"quantitative","scale":{"domain":[0.0226,1.4258],"nice":false,"zero":false},"axis":null},"detail":{"field":"s"},"order":{"field":"ord","type":"quantitative"}}},
{"data":{"name":"kites"},
 "transform":[{"lookup":"s","from":{"data":{"name":"dates"},"key":"s","fields":["p","slot"]}},{"filter":"datum.p==3 && datum.f>0"},{"joinaggregate":[{"op":"min","field":"lo","as":"flo"},{"op":"max","field":"hi","as":"fhi"}],"groupby":["s"]},{"calculate":"datum.slot+datum.f","as":"xf"},{"filter":"datum.lo==datum.flo"}],
 "mark":{"type":"rule","color":"#111","strokeWidth":1.2,"clip":true},
 "encoding":{"x":{"field":"slot","type":"quantitative","scale":{"domain":[0,1224.24],"nice":false,"zero":false},"axis":null},"x2":{"field":"xf"},"y":{"field":"lo","type":"quantitative","scale":{"domain":[0.0226,1.4258],"nice":false,"zero":false},"axis":null}}},
{"data":{"name":"kites"},
 "transform":[{"lookup":"s","from":{"data":{"name":"dates"},"key":"s","fields":["p","slot"]}},{"filter":"datum.p==3 && datum.f>0"},{"joinaggregate":[{"op":"min","field":"lo","as":"flo"},{"op":"max","field":"hi","as":"fhi"}],"groupby":["s"]},{"calculate":"datum.slot+datum.f","as":"xf"},{"filter":"datum.hi==datum.fhi"}],
 "mark":{"type":"rule","color":"#111","strokeWidth":1.2,"clip":true},
 "encoding":{"x":{"field":"slot","type":"quantitative","scale":{"domain":[0,1224.24],"nice":false,"zero":false},"axis":null},"x2":{"field":"xf"},"y":{"field":"hi","type":"quantitative","scale":{"domain":[0.0226,1.4258],"nice":false,"zero":false},"axis":null}}},
{"data":{"name":"kites"},
 "transform":[{"aggregate":[{"op":"min","field":"lo","as":"bot"},{"op":"max","field":"hi","as":"top"}],"groupby":["s"]},{"lookup":"s","from":{"data":{"name":"dates"},"key":"s","fields":["p","slot"]}},{"filter":"datum.p==3"}],
 "mark":{"type":"rule","color":"#111","strokeWidth":1.3,"clip":true},
 "encoding":{"x":{"field":"slot","type":"quantitative","scale":{"domain":[0,1224.24],"nice":false,"zero":false},"axis":null},"y":{"field":"bot","type":"quantitative","scale":{"domain":[0.0226,1.4258],"nice":false,"zero":false},"axis":null},"y2":{"field":"top"}}},
{"data":{"name":"stip"},
 "transform":[{"lookup":"s","from":{"data":{"name":"dates"},"key":"s","fields":["p","slot"]}},{"calculate":"datum.slot-datum.u/2","as":"xa"},{"calculate":"datum.slot+datum.u/2","as":"xb"},{"calculate":"max(datum.lo,0.336)","as":"lo2"}],
 "mark":{"type":"rect","fill":"#c4c4c4","stroke":"#444","strokeWidth":0.9,"strokeDash":[1.5,1.5]},
 "encoding":{"x":{"field":"xa","type":"quantitative","scale":{"domain":[0,1224.24],"nice":false,"zero":false},"axis":null},"x2":{"field":"xb"},"y":{"field":"lo2","type":"quantitative","scale":{"domain":[0.0226,1.4258],"nice":false,"zero":false},"axis":null},"y2":{"field":"hi"}}},
{"data":{"name":"stip"},
 "transform":[{"aggregate":[{"op":"max","field":"hi","as":"top"}],"groupby":["s"]},{"lookup":"s","from":{"data":{"name":"dates"},"key":"s","fields":["p","slot","n"]}}],
 "mark":{"type":"text","dy":-11,"baseline":"middle","fontWeight":"bold","fontSize":11,"font":"Liberation Sans Narrow, DejaVu Sans Condensed, Liberation Sans"},
 "encoding":{"text":{"field":"n"},"x":{"field":"slot","type":"quantitative","scale":{"domain":[0,1224.24],"nice":false,"zero":false},"axis":null},"y":{"field":"top","type":"quantitative","scale":{"domain":[0.0226,1.4258],"nice":false,"zero":false},"axis":null}}},
{"data":{"name":"kites"},
 "transform":[{"aggregate":[{"op":"max","field":"hi","as":"top"}],"groupby":["s"]},{"lookup":"s","from":{"data":{"name":"dates"},"key":"s","fields":["p","slot","nm","nf"]}},{"filter":"datum.p==3"}],
 "mark":{"type":"text","dx":-15,"dy":-11,"baseline":"middle","fontWeight":"bold","fontSize":11,"font":"Liberation Sans Narrow, DejaVu Sans Condensed, Liberation Sans","clip":true},
 "encoding":{"text":{"field":"nm"},"x":{"field":"slot","type":"quantitative","scale":{"domain":[0,1224.24],"nice":false,"zero":false},"axis":null},"y":{"field":"top","type":"quantitative","scale":{"domain":[0.0226,1.4258],"nice":false,"zero":false},"axis":null}}},
{"data":{"name":"kites"},
 "transform":[{"aggregate":[{"op":"max","field":"hi","as":"top"}],"groupby":["s"]},{"lookup":"s","from":{"data":{"name":"dates"},"key":"s","fields":["p","slot","nm","nf"]}},{"filter":"datum.p==3"}],
 "mark":{"type":"text","dx":15,"dy":-11,"baseline":"middle","fontWeight":"bold","fontSize":11,"font":"Liberation Sans Narrow, DejaVu Sans Condensed, Liberation Sans","clip":true},
 "encoding":{"text":{"field":"nf"},"x":{"field":"slot","type":"quantitative","scale":{"domain":[0,1224.24],"nice":false,"zero":false},"axis":null},"y":{"field":"top","type":"quantitative","scale":{"domain":[0.0226,1.4258],"nice":false,"zero":false},"axis":null}}},
{"data":{"values":[{}]},"mark":{"type":"rule","color":"#222","strokeWidth":1.5},
 "encoding":{"x":{"datum":0,"type":"quantitative","scale":{"domain":[0,1224.24],"nice":false,"zero":false},"axis":null},"x2":{"datum":1224.24},"y":{"datum":0.336,"type":"quantitative","scale":{"domain":[0.0226,1.4258],"nice":false,"zero":false},"axis":null}}},
{"data":{"name":"dates"},"transform":[{"filter":"datum.p==3"}],"mark":{"type":"rule","color":"#222","strokeWidth":1.2},
 "encoding":{"x":{"field":"slot","type":"quantitative","scale":{"domain":[0,1224.24],"nice":false,"zero":false},"axis":null},"y":{"datum":0.349,"type":"quantitative","scale":{"domain":[0.0226,1.4258],"nice":false,"zero":false},"axis":null},"y2":{"datum":0.323}}},
{"data":{"name":"seps"},"transform":[{"filter":"datum.p==3"}],"mark":{"type":"rule","color":"#222","strokeWidth":1.2},
 "encoding":{"x":{"field":"slot","type":"quantitative","scale":{"domain":[0,1224.24],"nice":false,"zero":false},"axis":null},"y":{"datum":0.336,"type":"quantitative","scale":{"domain":[0.0226,1.4258],"nice":false,"zero":false},"axis":null},"y2":{"datum":0.25}}},
{"data":{"name":"dates"},"transform":[{"filter":"datum.p==3"}],"mark":{"type":"text","baseline":"middle","fontWeight":"bold","fontSize":21},
 "encoding":{"text":{"field":"day"},"x":{"field":"slot","type":"quantitative","scale":{"domain":[0,1224.24],"nice":false,"zero":false},"axis":null},"y":{"datum":0.2613,"type":"quantitative","scale":{"domain":[0.0226,1.4258],"nice":false,"zero":false},"axis":null}}},
{"data":{"name":"labs"},"transform":[{"filter":"datum.p==3 && datum.k=='m'"}],"mark":{"type":"text","baseline":"middle","fontWeight":"bold","fontSize":22},
 "encoding":{"text":{"field":"t"},"x":{"field":"slot","type":"quantitative","scale":{"domain":[0,1224.24],"nice":false,"zero":false},"axis":null},"y":{"datum":0.1597,"type":"quantitative","scale":{"domain":[0.0226,1.4258],"nice":false,"zero":false},"axis":null}}},
{"data":{"name":"labs"},"transform":[{"filter":"datum.p==3 && datum.k=='y'"}],"mark":{"type":"text","baseline":"middle","fontWeight":"bold","fontSize":22},
 "encoding":{"text":{"field":"t"},"x":{"field":"slot","type":"quantitative","scale":{"domain":[0,1224.24],"nice":false,"zero":false},"axis":null},"y":{"datum":0.0677,"type":"quantitative","scale":{"domain":[0.0226,1.4258],"nice":false,"zero":false},"axis":null}}}
]
}
]
}
